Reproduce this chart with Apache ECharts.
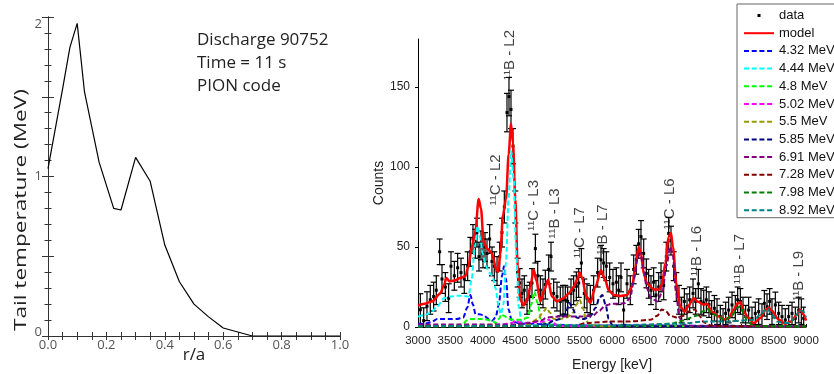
<!DOCTYPE html>
<html><head><meta charset="utf-8">
<script src="https://cdn.jsdelivr.net/npm/echarts@6/dist/echarts.min.js"></script>
<style>html,body{margin:0;padding:0;background:#fff}#c{width:834px;height:374px}</style>
</head><body><div id="c"></div>
<script>
// ---------- Left panel: tail temperature profile ----------
const tailR = [0, 0.05, 0.075, 0.1, 0.125, 0.175, 0.225, 0.25, 0.3, 0.35, 0.4, 0.45, 0.5, 0.55, 0.6, 0.7, 0.8, 0.9, 1.0];
const tailT = [1.05, 1.55, 1.81, 1.96, 1.53, 1.09, 0.80, 0.79, 1.12, 0.97, 0.57, 0.34, 0.20, 0.12, 0.05, 0.0, 0.0, 0.0, 0.0];
const infoLines = ['Discharge 90752', 'Time = 11 s', 'PION code'];

// ---------- Right panel: gamma spectrum ----------
// [energy keV, counts, error]
const dataPts = [[3036,10.8,10],[3088,4,8],[3139,13,9],[3190,17,9],[3242,19,9],[3283,23,9],[3335,47,8],[3371,30,9],[3423,25,9],[3474,18,9],[3510,38,9],[3562,32,9],[3613,37,9],[3665,34,9],[3716,30,9],[3768,38,9],[3809,47,9],[3850,55,9],[3887,52,9],[3912,59,9],[3943,44,9],[3974,51,9],[4005,46,9],[4036,50,9],[4067,46,9],[4108,55,9],[4144,41,9],[4180,38,9],[4222,35,9],[4263,44,9],[4299,59,9],[4335,75,10],[4376,134,12],[4407,144,12],[4438,136,12],[4469,113,11],[4505,75,10],[4541,34,9],[4572,27.5,9],[4608,21,9],[4644,23,9],[4686,17,9],[4727,19,9],[4763,27.5,9],[4815,49,9],[4851,32,9],[4892,23,9],[4933,21,9],[4969,26.5,9],[5021,36,9],[5057,44,9],[5098,21,9],[5149,19,9],[5201,16,9],[5242,17,9],[5278,17,9],[5314,16,9],[5366,21,9],[5407,23,9],[5449,25.4,9],[5485,27.5,9],[5526,40,9],[5572,21,9],[5613,18,9],[5665,17,9],[5716,23,9],[5778,34,9],[5830,42,9],[5871,40,9],[5912,38,9],[5964,31,9],[6015,27,9],[6067,28,9],[6103,23,9],[6139,31,9],[6180,10.6,9],[6232,27,9],[6283,23,9],[6335,36,9],[6376,42,9],[6412,52,9],[6448,56.5,10],[6490,46,9],[6531,33.5,9],[6567,27,9],[6603,23,9],[6644,28,9],[6680,20,9],[6722,25,9],[6758,31,9],[6799,26,9],[6840,44,9],[6876,58.5,10],[6912,54,9],[6954,38,9],[6995,25,9],[7036,17,9],[7077,10.6,8],[7119,16,8],[7160,12.7,8],[7201,17,8],[7253,21,9],[7294,16,8],[7335,27,9],[7376,16,8],[7418,15,8],[7459,17,8],[7500,14,8],[7541,8.5,8],[7583,11.7,8],[7624,9.6,8],[7675,6.5,7],[7717,4.4,7],[7758,8.5,7],[7804,10.6,8],[7856,13.8,8],[7907,11.7,8],[7943,17,8],[7985,16,8],[8026,10.6,8],[8067,6.5,7],[8113,10.6,8],[8165,5.4,7],[8216,8.5,7],[8268,9.6,8],[8319,7.5,7],[8356,14.8,8],[8397,12.7,8],[8438,16,8],[8474,9.6,8],[8526,13.8,8],[8577,8.5,7],[8629,6.5,7],[8680,4.4,7],[8732,6.5,7],[8784,8.5,7],[8835,5.4,7],[8887,10.6,8],[8928,9.6,8],[8964,5.4,7]];

const model = [[3000,13.3],[3100,14.5],[3216,16],[3345,21],[3400,26],[3438,30.6],[3490,28.5],[3560,29],[3655,30.6],[3732,31.7],[3780,38],[3830,50],[3887,60],[3938,80],[3974,74],[4015,53],[4067,49],[4144,46],[4211,36],[4240,34.5],[4273,46],[4314,70],[4361,80],[4402,108],[4438,127],[4469,115],[4505,80],[4541,38],[4582,17],[4634,13.5],[4686,17],[4737,25],[4789,36],[4830,29],[4892,16],[4954,23],[5010,29.5],[5072,19],[5149,16],[5253,18],[5330,21],[5407,25],[5459,29.6],[5500,34],[5536,31],[5603,19],[5665,15],[5742,25],[5830,35.4],[5897,29],[5948,23],[6026,20],[6129,19.4],[6232,20],[6309,25],[6361,37.7],[6412,50],[6448,46],[6490,33.5],[6541,27.3],[6644,23.5],[6722,23.3],[6773,26.5],[6825,40],[6876,56.5],[6912,58.7],[6943,50],[6995,27.3],[7057,12.7],[7119,9.6],[7170,12.7],[7263,17.9],[7330,15.8],[7418,14],[7469,14.6],[7546,9.6],[7649,6.5],[7753,4.8],[7804,5.6],[7881,10.6],[7943,14.8],[7985,15.4],[8036,9.6],[8113,5.6],[8191,2.3],[8294,5.6],[8381,11],[8423,12],[8474,9.8],[8577,4.6],[8680,2],[8768,3.5],[8861,7.7],[8912,10.8],[8964,7.7],[9000,4]];

const c432 = [[3000,2],[3100,2],[3200,3],[3300,5],[3400,5],[3500,5],[3600,5],[3700,6],[3760,12],[3810,20],[3850,14],[3890,8],[3950,8],[4000,7.5],[4100,5],[4150,4],[4200,6],[4250,14],[4300,32],[4330,38],[4360,30],[4400,11],[4450,4],[4500,3],[4600,2],[4800,2],[5000,1.5],[5500,1],[9000,0.5]];
const c444 = [[3000,6.5],[3100,7.5],[3200,9],[3300,13],[3400,18],[3500,19],[3600,19.5],[3700,19.5],[3780,19],[3830,30],[3880,50],[3920,63],[3960,56],[4000,46],[4050,38],[4100,34],[4150,32],[4200,24],[4250,12],[4280,8],[4320,14],[4360,40],[4400,80],[4440,110],[4480,92],[4520,45],[4560,12],[4600,3],[4700,1],[5000,0.5],[9000,0.5]];
const c48 = [[3000,0.5],[3600,1],[3700,2],[3750,4],[3800,5],[4000,5],[4150,4],[4200,2.5],[4250,5],[4290,8],[4330,7],[4400,5],[4500,4.5],[4600,4.5],[4700,6],[4750,14],[4800,22],[4850,15],[4900,5],[4950,2.5],[5000,1.5],[5500,0.8],[9000,0.3]];
const c502 = [[3000,1],[4000,1],[4300,1.5],[4450,2.5],[4510,4],[4560,3],[4650,2.5],[4800,3],[4950,3.5],[5020,4.5],[5080,3],[5150,1],[5300,0.5],[9000,0.3]];
const c55 = [[3000,0.5],[4500,0.5],[4700,1.5],[4850,5],[4950,10],[4990,12],[5040,9],[5100,5],[5200,5],[5300,6],[5400,9],[5450,14],[5500,17],[5550,12],[5600,4],[5650,1.5],[5800,0.5],[9000,0.3]];
const c585 = [[3000,0.5],[4800,0.5],[5000,2],[5100,4],[5200,5],[5280,8],[5340,15],[5400,11],[5450,6],[5550,5],[5650,6],[5750,12],[5800,18],[5850,20],[5900,14],[5950,5],[6000,1.5],[6100,0.5],[9000,0.3]];
const c691 = [[3000,1.5],[4500,1.5],[4700,2.5],[4900,4],[5000,6],[5200,6.5],[5500,6.5],[5700,7],[5800,10],[5900,13.5],[6000,14.5],[6100,14.5],[6200,15],[6280,18],[6340,30],[6400,44],[6440,46],[6480,38],[6540,24],[6600,18],[6700,16],[6780,22],[6840,38],[6900,50],[6940,45],[6990,22],[7040,6],[7100,1.5],[7300,0.5],[9000,0.3]];
const c728 = [[3000,0.5],[5400,0.5],[5600,2.5],[6000,3.5],[6300,3.5],[6600,4.5],[6700,7],[6770,11],[6830,10],[6900,7],[7000,6],[7100,7],[7200,10],[7280,11],[7350,7],[7420,3],[7500,1],[7700,0.5],[9000,0.3]];
const c798 = [[3000,0.3],[6000,0.5],[6500,1],[6900,2],[7100,4],[7300,7],[7420,10],[7470,11.5],[7530,9],[7620,7],[7750,4.5],[7850,7],[7940,12],[7985,13],[8040,8],[8100,3],[8200,0.5],[9000,0.3]];
const c892 = [[3000,0.5],[6000,1],[7000,2],[7500,3.5],[7800,3.5],[8000,4],[8200,4.5],[8300,8],[8400,11.5],[8470,8],[8550,3.5],[8650,2.5],[8750,2.5],[8830,6],[8900,10.5],[8950,10],[9000,6]];

const compNames = ['4.32 MeV','4.44 MeV','4.8 MeV','5.02 MeV','5.5 MeV','5.85 MeV','6.91 MeV','7.28 MeV','7.98 MeV','8.92 MeV'];
const compData = [c432, c444, c48, c502, c55, c585, c691, c728, c798, c892];
const compColors = ['#0000ff','#00ffff','#00ff00','#ff00ff','#999900','#000080','#800080','#800000','#008000','#008080'];

// peak annotations: [energy, counts] anchor of label centre
const annotText = ['¹¹B - L2','¹¹C - L2','¹¹C - L3','¹¹B - L3','¹¹C - L7','¹¹B - L7','¹¹C - L6','¹¹B - L6','¹¹B - L7','¹¹B - L9'];
const annotPos = [[4427,170],[4211,92],[4798,76],[5123,71],[5509,59],[5865,61],[6901,77],[7319,47.5],[7984,42.5],[8896,32]];

const yTicksC = [0,50,100,150];

const chart = echarts.init(document.getElementById('c'));
const FL = 'Open Sans';
const FR = 'Liberation Sans';
const frameC = '#333';

const series = [
  {type:'line', xAxisIndex:0, yAxisIndex:0, data: tailR.map((r,i)=>[r, tailT[i]]), showSymbol:false, symbol:'none',
   lineStyle:{color:'#000', width:1.2}, silent:true},
  {type:'custom', name:'data', xAxisIndex:2, yAxisIndex:2, data: dataPts, clip:true,
   itemStyle:{color:'#000'}, encode:{x:0, y:1},
   renderItem:(params, api)=>{
     const e = api.value(0), c = api.value(1), er = api.value(2);
     const p = api.coord([e,c]), lo = api.coord([e,c-er]), hi = api.coord([e,c+er]);
     const w = 3, st = {stroke:'#000', lineWidth:1.2};
     return {type:'group', children:[
       {type:'line', shape:{x1:p[0],y1:lo[1],x2:p[0],y2:hi[1]}, style:st},
       {type:'line', shape:{x1:p[0]-w,y1:hi[1],x2:p[0]+w,y2:hi[1]}, style:st},
       {type:'line', shape:{x1:p[0]-w,y1:lo[1],x2:p[0]+w,y2:lo[1]}, style:st},
       {type:'rect', shape:{x:p[0]-1.5,y:p[1]-1.5,width:3,height:3}, style:{fill:'#000'}}
     ]};
   }},
  {type:'line', name:'model', xAxisIndex:2, yAxisIndex:2, data: model, smooth:0.3, smoothMonotone:'x',
   showSymbol:false, symbol:'none', lineStyle:{color:'#ff0000', width:2.5}, itemStyle:{color:'#ff0000'}}
];
compData.forEach((d,i)=>{
  series.push({type:'line', name:compNames[i], xAxisIndex:2, yAxisIndex:2, data:d, smooth:0.3, smoothMonotone:'x',
    showSymbol:false, symbol:'none', lineStyle:{color:compColors[i], width:2, type:[5,2.7]}, itemStyle:{color:compColors[i]}});
});
series.push({type:'scatter', xAxisIndex:2, yAxisIndex:2, data: annotPos.map((p,i)=>({value:p, name:annotText[i]})),
  symbolSize:1, itemStyle:{color:'rgba(0,0,0,0)'}, silent:true,
  label:{show:true, position:'inside', rotate:90, formatter:(p)=>p.name, color:'#111', fontFamily:FR, fontSize:15}});

const leftAxisCommon = {
  type:'value', gridIndex:0, min:0, axisLine:{show:true, lineStyle:{color:frameC, width:1}}, splitLine:{show:false}
};

chart.setOption({
  animation:false,
  backgroundColor:'#fff',
  grid:[
    {left:48, top:17, width:292, height:319, outerBoundsMode:'none', containLabel:false},
    {left:418, top:39, width:388, height:288, outerBoundsMode:'none', containLabel:false}
  ],
  xAxis:[
    Object.assign({}, leftAxisCommon, {position:'bottom', max:1, interval:0.2,
      axisTick:{show:true, inside:true, length:4, lineStyle:{color:frameC}},
      minorTick:{show:true, splitNumber:4, length:4, lineStyle:{color:frameC}},
      axisLabel:{formatter:(v)=>v.toFixed(1), color:'#555', fontFamily:FL, fontSize:13, margin:3},
      name:'r/a', nameLocation:'middle', nameGap:11, nameMoveOverlap:false,
      nameTextStyle:{fontFamily:FL, fontSize:17, color:'#222'}}),
    Object.assign({}, leftAxisCommon, {position:'top', max:1, interval:0.2,
      axisTick:{show:true, inside:true, length:4, lineStyle:{color:frameC}},
      minorTick:{show:true, splitNumber:4, length:4, lineStyle:{color:frameC}},
      axisLabel:{show:false}}),
    {type:'value', gridIndex:1, min:3000, max:9000, interval:500, position:'bottom',
      axisLine:{show:true, onZero:false, lineStyle:{color:'#000', width:1}},
      axisTick:{show:true, inside:true, length:3, lineStyle:{color:'#000'}},
      splitLine:{show:false},
      axisLabel:{color:'#222', fontFamily:FR, fontSize:11.5, margin:8, formatter:(v)=>String(v)},
      name:'Energy [keV]', nameLocation:'middle', nameGap:31, nameMoveOverlap:false,
      nameTextStyle:{fontFamily:FR, fontSize:14, color:'#222'}}
  ],
  yAxis:[
    Object.assign({}, leftAxisCommon, {position:'left', max:2, interval:0.5,
      axisTick:{show:true, inside:true, length:6, lineStyle:{color:frameC}},
      minorTick:{show:true, splitNumber:5, length:3.5, lineStyle:{color:frameC}},
      axisLabel:{color:'#555', fontFamily:FL, fontSize:13, margin:6,
        formatter:(v)=> v===2 ? '{t|2}' : v===0 ? '{b|0}' : v===1 ? '1' : '',
        rich:{t:{padding:[14,0,0,0], fontFamily:FL, fontSize:13, color:'#555'}, b:{padding:[0,0,8,0], fontFamily:FL, fontSize:13, color:'#555'}}}}),
    Object.assign({}, leftAxisCommon, {position:'right', max:2, interval:0.5,
      axisTick:{show:true, inside:true, length:6, lineStyle:{color:frameC}},
      minorTick:{show:true, splitNumber:5, length:3.5, lineStyle:{color:frameC}},
      axisLabel:{show:false}}),
    {type:'value', gridIndex:1, min:0, max:180, interval:50, position:'left',
      axisLine:{show:true, lineStyle:{color:'#000', width:1}},
      axisTick:{show:true, inside:false, length:3, customValues:yTicksC, lineStyle:{color:'#000'}},
      splitLine:{show:false},
      axisLabel:{color:'#222', fontFamily:FR, fontSize:12, margin:8, customValues:yTicksC},
      name:'Counts', nameLocation:'middle', nameGap:32, nameMoveOverlap:false,
      nameTextStyle:{fontFamily:FR, fontSize:14, color:'#222'}}
  ],
  legend:{
    orient:'vertical', left:737, top:4, padding:[5,6,1,6], itemWidth:30, itemHeight:12, itemGap:4.7,
    borderColor:'#666', borderWidth:1, backgroundColor:'#fff', selectedMode:false,
    itemStyle:{opacity:0},
    textStyle:{fontFamily:FR, fontSize:13, color:'#111', lineHeight:12},
    data:[{name:'data', icon:'path://M0,0M30,12M13.5,4.5h3v3h-3z', itemStyle:{opacity:1, color:'#000'}}, 'model'].concat(compNames)
  },
  graphic:[
    {type:'text', x:21, y:210, rotation:Math.PI/2, scaleX:1.33, silent:true,
     style:{text:'Tail temperature (MeV)', fontFamily:FL, fontSize:17, fill:'#222', align:'center', verticalAlign:'middle'}},
    {type:'text', x:197, y:40, silent:true, style:{text:infoLines[0], fontFamily:FL, fontSize:17, fill:'#222', align:'left', verticalAlign:'middle'}},
    {type:'text', x:197, y:63, silent:true, style:{text:infoLines[1], fontFamily:FL, fontSize:17, fill:'#222', align:'left', verticalAlign:'middle'}},
    {type:'text', x:197, y:86, silent:true, style:{text:infoLines[2], fontFamily:FL, fontSize:17, fill:'#222', align:'left', verticalAlign:'middle'}}
  ],
  series: series
});
</script>
</body></html>
